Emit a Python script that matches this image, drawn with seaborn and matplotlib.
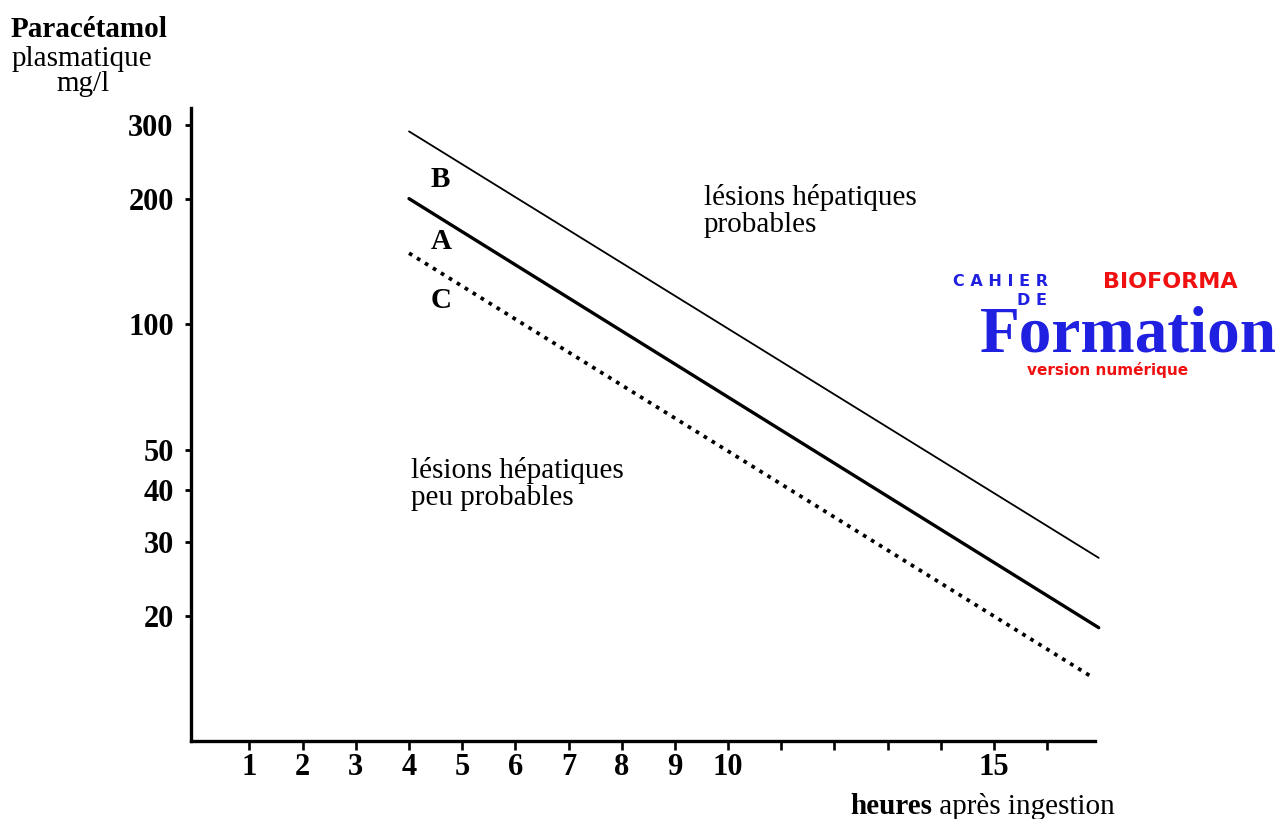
import matplotlib
matplotlib.use("Agg")
import matplotlib.pyplot as plt
import numpy as np
import pandas as pd
import seaborn as sns
from matplotlib.ticker import NullLocator

heures = [4, 16.97]
heures_C = [4, 16.82]
ligne_A = [200, 18.7]
ligne_B = [290, 27.5]
ligne_C = [148, 14.3]

yticks = [20, 30, 40, 50, 100, 200, 300]
xticks = list(range(1, 17))
xlabels = ['1', '2', '3', '4', '5', '6', '7', '8', '9', '10', '', '', '', '', '15', '']

sns.set_theme(style="ticks")
plt.rcParams['font.family'] = ['Liberation Serif', 'DejaVu Serif']
plt.rcParams['text.color'] = 'black'
plt.rcParams['xtick.color'] = 'black'
plt.rcParams['ytick.color'] = 'black'

W, H = 1287, 819
fig = plt.figure(figsize=(W / 100, H / 100), dpi=100)
fig.patch.set_facecolor('white')
ax = fig.add_axes([191 / W, 1 - 741 / H, (1095 - 191) / W, (741 - 108) / H])
ax.set_facecolor('white')


def fx(px):
    return px / W


def fy(py):
    return 1 - py / H


df = pd.DataFrame({'h': heures, 'A': ligne_A, 'B': ligne_B})
dfc = pd.DataFrame({'h': heures_C, 'C': ligne_C})

sns.lineplot(data=df, x='h', y='B', ax=ax, color='black', linewidth=1.3, clip_on=False)
sns.lineplot(data=df, x='h', y='A', ax=ax, color='black', linewidth=2.4, clip_on=False)
sns.lineplot(data=dfc, x='h', y='C', ax=ax, color='black', linewidth=2.7,
             linestyle=(0, (1, 1.5)), clip_on=False)

ax.set_yscale('log')
ax.set_xlim(-0.1, 16.9)
ax.set_ylim(10, 330)
ax.set_yticks(yticks)
ax.set_yticklabels([str(v) for v in yticks], fontsize=22, fontweight='bold', color='black')
ax.yaxis.set_minor_locator(NullLocator())
ax.set_xticks(xticks)
ax.set_xticklabels(xlabels, fontsize=22, fontweight='bold', color='black')
ax.set_xlabel('')
ax.set_ylabel('')

for s in ['top', 'right']:
    ax.spines[s].set_visible(False)
for s in ['left', 'bottom']:
    ax.spines[s].set_linewidth(2.4)
    ax.spines[s].set_color('black')
ax.tick_params(axis='y', direction='out', length=4.5, width=2.0, pad=8)
ax.tick_params(axis='x', direction='out', length=6.5, width=1.9, pad=2)

# titre de l'axe y
fig.text(fx(11), fy(37), 'Paracétamol', fontsize=21, fontweight='bold', va='baseline')
fig.text(fx(12), fy(66), 'plasmatique', fontsize=21, va='baseline')
fig.text(fx(56), fy(91), 'mg/l', fontsize=21, va='baseline')

# titre de l'axe x
t1 = fig.text(fx(850), fy(814), 'heures', fontsize=21, fontweight='bold', va='baseline')
ax.annotate(' après ingestion', xy=(1, 0), xycoords=t1, fontsize=21,
            ha='left', va='bottom', annotation_clip=False)

# lettres des droites
fig.text(fx(431), fy(187), 'B', fontsize=21, fontweight='bold', va='baseline')
fig.text(fx(431), fy(249), 'A', fontsize=21, fontweight='bold', va='baseline')
fig.text(fx(431), fy(308), 'C', fontsize=21, fontweight='bold', va='baseline')

# zones
fig.text(fx(704), fy(205), 'lésions hépatiques', fontsize=21, va='baseline')
fig.text(fx(704), fy(232), 'probables', fontsize=21, va='baseline')
fig.text(fx(411), fy(478), 'lésions hépatiques', fontsize=21, va='baseline')
fig.text(fx(411), fy(505), 'peu probables', fontsize=21, va='baseline')

# logo
bleu = '#2020e0'
rouge = '#f01010'
fig.text(fx(953), fy(286), 'C A H I E R', fontsize=11.5, fontweight='bold', color=bleu,
         family='DejaVu Sans', va='baseline')
fig.text(fx(1017), fy(305), 'D E', fontsize=11.5, fontweight='bold', color=bleu,
         family='DejaVu Sans', va='baseline')
fig.text(fx(1103), fy(288), 'BIOFORMA', fontsize=16, fontweight='bold', color=rouge,
         family='DejaVu Sans', va='baseline')
fig.text(fx(980), fy(352), 'Formation', fontsize=47, fontweight='bold', color=bleu,
         family='Liberation Serif', va='baseline')
fig.text(fx(1027), fy(375), 'version numérique', fontsize=11, fontweight='bold', color=rouge,
         family='DejaVu Sans', va='baseline')

fig.savefig('out.png', dpi=100, facecolor='white')
